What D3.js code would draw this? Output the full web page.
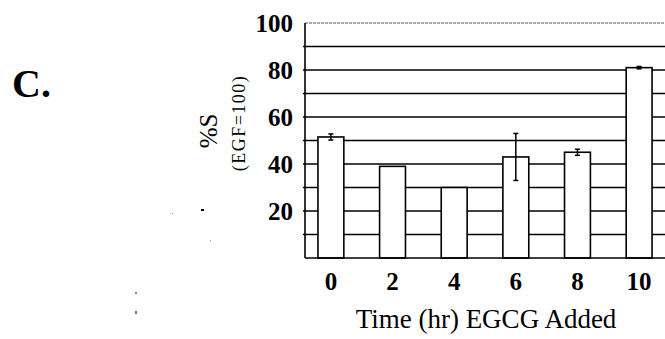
<!DOCTYPE html>
<html>
<head>
<meta charset="utf-8">
<script src="https://cdn.jsdelivr.net/npm/d3@7"></script>
<style>
  body { margin: 0; background: #fff; }
  svg { display: block; }
  text { font-family: "Liberation Serif", "Times New Roman", serif; fill: #000; }
</style>
</head>
<body>
<svg width="665" height="339"></svg>
<script>
// data
var hours = ["0", "2", "4", "6", "8", "10"];
var pctS = [51.5, 39, 30, 43, 45, 81];
var errS = [1.3, 0, 0, 10, 1.3, 0.5];
var yTicks = [20, 40, 60, 80, 100];
var gridVals = [10, 20, 30, 40, 50, 60, 70, 80, 90];

var svg = d3.select("svg");
var plotL = 305, plotR = 665, plotT = 23, plotB = 258;

var x = d3.scaleBand().domain(hours).range([plotL, plotR]).paddingInner(0.58).paddingOuter(0.21);
var y = d3.scaleLinear().domain([0, 100]).range([plotB, plotT]);

var rows = hours.map(function(h, i) { return {h: h, v: pctS[i], e: errS[i]}; });
function cx(d) { return x(d.h) + x.bandwidth() / 2; }

// grid lines behind bars
svg.append("g").selectAll("line")
  .data(gridVals)
  .enter().append("line")
  .attr("x1", plotL - 2).attr("x2", plotR)
  .attr("y1", function(d) { return y(d); })
  .attr("y2", function(d) { return y(d); })
  .attr("stroke", "#000").attr("stroke-width", 1.5);

// top border, faint dotted
svg.append("line")
  .attr("x1", plotL).attr("x2", plotR)
  .attr("y1", y(100)).attr("y2", y(100))
  .attr("stroke", "#555").attr("stroke-width", 1)
  .attr("stroke-dasharray", "3,1");

// bars
svg.append("g").selectAll("rect")
  .data(rows)
  .enter().append("rect")
  .attr("x", function(d) { return x(d.h); })
  .attr("y", function(d) { return y(d.v); })
  .attr("width", x.bandwidth())
  .attr("height", function(d) { return y(0) - y(d.v); })
  .attr("fill", "#fff").attr("stroke", "#000").attr("stroke-width", 1.6);

// error bars
var eb = svg.append("g").selectAll("g")
  .data(rows.filter(function(d) { return d.e > 0; }))
  .enter().append("g");
eb.append("line")
  .attr("x1", cx).attr("x2", cx)
  .attr("y1", function(d) { return y(d.v + d.e); })
  .attr("y2", function(d) { return y(d.v - d.e); })
  .attr("stroke", "#000").attr("stroke-width", 1.5);
[1, -1].forEach(function(s) {
  eb.append("line")
    .attr("x1", function(d) { return cx(d) - 2.5; })
    .attr("x2", function(d) { return cx(d) + 2.5; })
    .attr("y1", function(d) { return y(d.v + s * d.e); })
    .attr("y2", function(d) { return y(d.v + s * d.e); })
    .attr("stroke", "#000").attr("stroke-width", 1.5);
});

// axes lines
svg.append("line")
  .attr("x1", plotL).attr("x2", plotL).attr("y1", y(100)).attr("y2", y(0))
  .attr("stroke", "#000").attr("stroke-width", 1.6);
svg.append("line")
  .attr("x1", plotL).attr("x2", plotR).attr("y1", y(0)).attr("y2", y(0))
  .attr("stroke", "#000").attr("stroke-width", 1.6);

// y tick labels
svg.append("g").selectAll("text")
  .data(yTicks)
  .enter().append("text")
  .attr("x", 293)
  .attr("y", function(d) { return y(d); })
  .attr("dy", "0.34em")
  .attr("text-anchor", "end")
  .attr("font-size", 25).attr("font-weight", "bold")
  .text(function(d) { return d; });

// x tick labels
svg.append("g").selectAll("text")
  .data(hours)
  .enter().append("text")
  .attr("x", function(d) { return x(d) + x.bandwidth() / 2; })
  .attr("y", 290)
  .attr("text-anchor", "middle")
  .attr("font-size", 25).attr("font-weight", "bold")
  .text(function(d) { return d; });

// axis titles
svg.append("text")
  .attr("x", 486).attr("y", 328)
  .attr("text-anchor", "middle")
  .attr("font-size", 27)
  .text("Time (hr) EGCG Added");

svg.append("text")
  .attr("transform", "translate(217,131) rotate(-90)")
  .attr("text-anchor", "middle")
  .attr("font-size", 25)
  .text("%S");
svg.append("text")
  .attr("transform", "translate(245,123) rotate(-90)")
  .attr("text-anchor", "middle")
  .attr("font-size", 18)
  .attr("letter-spacing", 1.5)
  .text("(EGF=100)");

// panel letter
svg.append("text")
  .attr("x", 12).attr("y", 97)
  .attr("font-size", 40).attr("font-weight", "bold")
  .text("C.");

// scan specks
var specks = [[201, 209, 3, 2, "#000"], [172, 213, 1, 1, "#888"], [210, 240, 1, 1, "#999"], [135, 292, 2, 2, "#888"], [135, 311, 2, 3, "#777"]];
svg.append("g").selectAll("rect")
  .data(specks)
  .enter().append("rect")
  .attr("x", function(d) { return d[0]; }).attr("y", function(d) { return d[1]; })
  .attr("width", function(d) { return d[2]; }).attr("height", function(d) { return d[3]; })
  .attr("fill", function(d) { return d[4]; });
</script>
</body>
</html>
